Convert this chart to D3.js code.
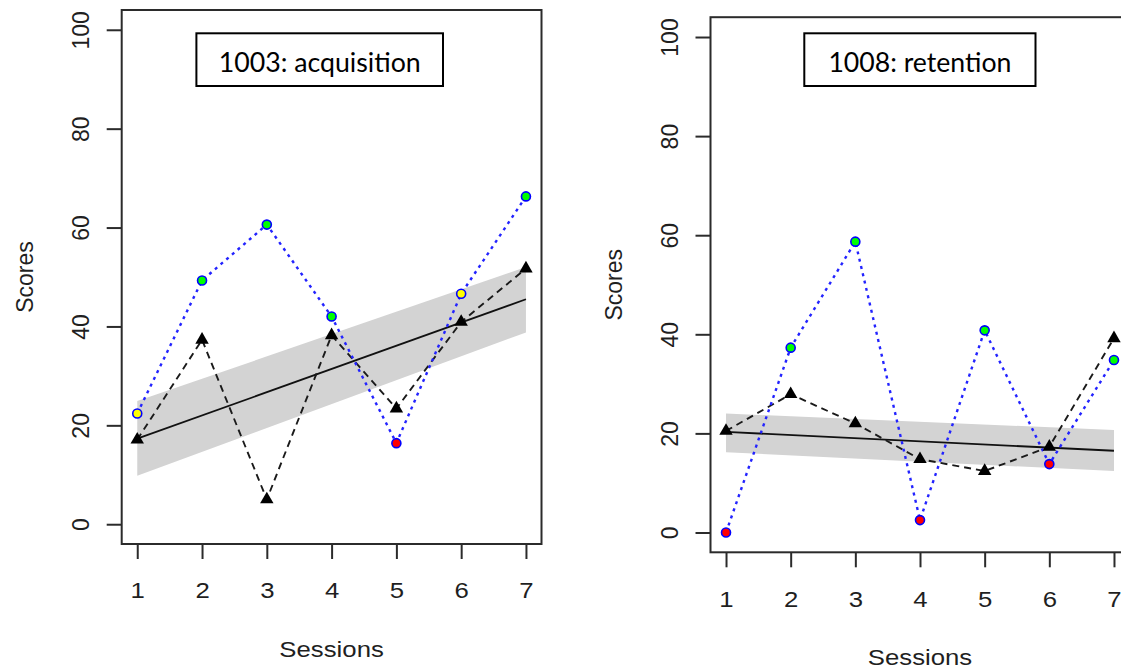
<!DOCTYPE html>
<html>
<head>
<meta charset="utf-8">
<script src="https://cdn.jsdelivr.net/npm/d3@7"></script>
<style>
  html, body { margin: 0; padding: 0; background: #fff; }
  svg { display: block; }
</style>
</head>
<body>
<svg id="chart" width="1121" height="668"></svg>
<script>
// ---- data ----
const sessions = [1, 2, 3, 4, 5, 6, 7];
const xTickLabels = ["1", "2", "3", "4", "5", "6", "7"];
const yTickValues = [0, 20, 40, 60, 80, 100];
const xLabel = "Sessions";
const yLabel = "Scores";

// participant 1003, acquisition phase
const acqTitle = "1003: acquisition";
const acqCircleScores = [22.4, 49.3, 60.6, 42.0, 16.4, 46.6, 66.3];
const acqCircleFills = ["#ffff00", "#00ff00", "#00ff00", "#00ff00", "#ff0000", "#ffff00", "#00ff00"];
const acqTriangleScores = [17.1, 37.3, 5.0, 38.2, 23.4, 40.9, 51.7];
const acqTrendEnds = [17.3, 45.5];      // fitted value at session 1 and session 7
const acqBandUpper = [24.9, 52.0];
const acqBandLower = [9.8, 38.8];

// participant 1008, retention phase
const retTitle = "1008: retention";
const retCircleScores = [0.0, 37.3, 58.7, 2.5, 40.8, 13.8, 34.8];
const retCircleFills = ["#ff0000", "#00ff00", "#00ff00", "#ff0000", "#00ff00", "#ff0000", "#00ff00"];
const retTriangleScores = [20.5, 27.9, 22.0, 14.8, 12.4, 17.3, 39.2];
const retTrendEnds = [20.3, 16.5];
const retBandUpper = [24.0, 20.7];
const retBandLower = [16.2, 12.4];

const trendSessions = [sessions[0], sessions[sessions.length - 1]];

// ---- layout ----
const svg = d3.select("#chart");
const AXIS_FONT = "'Liberation Sans', Arial, sans-serif";
const TITLE_FONT = "Lato, 'Open Sans', sans-serif";
const STRETCH = 1.12;

const panels = [
  {
    box: { x0: 121.7, x1: 541.5, y0: 10, y1: 544 },
    title: acqTitle, titleBox: { x: 196.4, y: 33.3, w: 246.6, h: 52.7 }, titleWidth: 202,
    circles: acqCircleScores, fills: acqCircleFills, triangles: acqTriangleScores,
    trend: acqTrendEnds, upper: acqBandUpper, lower: acqBandLower
  },
  {
    box: { x0: 710.5, x1: 1129.5, y0: 17.2, y1: 552.3 },
    title: retTitle, titleBox: { x: 804.3, y: 33.3, w: 231.2, h: 52.7 }, titleWidth: 183,
    circles: retCircleScores, fills: retCircleFills, triangles: retTriangleScores,
    trend: retTrendEnds, upper: retBandUpper, lower: retBandLower
  }
];

function drawPanel(p) {
  const b = p.box;
  const x = d3.scaleLinear().domain([0.76, 7.24]).range([b.x0, b.x1]);
  const y = d3.scaleLinear().domain([-4, 104]).range([b.y1, b.y0]);
  const g = svg.append("g");

  // confidence band around the trend
  const bandData = trendSessions.map((s, i) => ({ s, lo: p.lower[i], hi: p.upper[i] }));
  g.append("path")
    .datum(bandData)
    .attr("fill", "#d3d3d3")
    .attr("d", d3.area().x(d => x(d.s)).y0(d => y(d.lo)).y1(d => y(d.hi)));

  // fitted trend line
  g.append("path")
    .datum(trendSessions.map((s, i) => ({ s, v: p.trend[i] })))
    .attr("fill", "none")
    .attr("stroke", "#111")
    .attr("stroke-width", 1.8)
    .attr("d", d3.line().x(d => x(d.s)).y(d => y(d.v)));

  const triData = sessions.map((s, i) => ({ s, v: p.triangles[i] }));
  const cirData = sessions.map((s, i) => ({ s, v: p.circles[i], fill: p.fills[i] }));
  const line = d3.line().x(d => x(d.s)).y(d => y(d.v));

  // dashed black series
  g.append("path")
    .datum(triData)
    .attr("fill", "none")
    .attr("stroke", "#1a1a1a")
    .attr("stroke-width", 1.9)
    .attr("stroke-dasharray", "7,5")
    .attr("d", line);

  // dotted blue series
  g.append("path")
    .datum(cirData)
    .attr("fill", "none")
    .attr("stroke", "#2323ff")
    .attr("stroke-width", 2.4)
    .attr("stroke-dasharray", "3,4.5")
    .attr("d", line);

  g.selectAll("path.tri")
    .data(triData)
    .join("path")
    .attr("class", "tri")
    .attr("transform", d => `translate(${x(d.s)},${y(d.v)})`)
    .attr("fill", "#000")
    .attr("d", d3.symbol(d3.symbolTriangle, 78));

  g.selectAll("circle.pt")
    .data(cirData)
    .join("circle")
    .attr("class", "pt")
    .attr("cx", d => x(d.s))
    .attr("cy", d => y(d.v))
    .attr("r", 4.5)
    .attr("fill", d => d.fill)
    .attr("stroke", "#0000ff")
    .attr("stroke-width", 1.6);

  // plot frame
  g.append("rect")
    .attr("x", b.x0).attr("y", b.y0)
    .attr("width", b.x1 - b.x0).attr("height", b.y1 - b.y0)
    .attr("fill", "none")
    .attr("stroke", "#2b2b2b")
    .attr("stroke-width", 2);

  // x axis
  const xAxis = g.append("g")
    .attr("transform", `translate(0,${b.y1})`)
    .call(d3.axisBottom(x).tickValues(sessions).tickFormat((d, i) => xTickLabels[i])
      .tickSize(15).tickSizeOuter(0));
  xAxis.select(".domain").remove();
  xAxis.selectAll(".tick line").attr("stroke", "#2b2b2b").attr("stroke-width", 2);
  xAxis.selectAll(".tick text")
    .attr("y", 54.3).attr("dy", null)
    .attr("transform", `scale(${STRETCH},1)`)
    .attr("fill", "#1f1f1f")
    .style("font-family", AXIS_FONT).style("font-size", "23px");

  // y axis with labels parallel to the axis
  const yAxis = g.append("g")
    .attr("transform", `translate(${b.x0},0)`)
    .call(d3.axisLeft(y).tickValues(yTickValues).tickSize(15).tickSizeOuter(0));
  yAxis.select(".domain").remove();
  yAxis.selectAll(".tick line").attr("stroke", "#2b2b2b").attr("stroke-width", 2);
  yAxis.selectAll(".tick text")
    .attr("transform", "rotate(-90)")
    .attr("x", 0).attr("y", -32.3).attr("dy", null)
    .attr("text-anchor", "middle")
    .attr("fill", "#1f1f1f")
    .style("font-family", AXIS_FONT).style("font-size", "23px");

  // axis titles
  const cx = (b.x0 + b.x1) / 2;
  g.append("text")
    .attr("transform", `translate(${cx},${b.y1 + 112.7}) scale(${STRETCH},1)`)
    .attr("text-anchor", "middle")
    .attr("fill", "#1f1f1f")
    .style("font-family", AXIS_FONT).style("font-size", "23px")
    .text(xLabel);
  g.append("text")
    .attr("transform", `translate(${b.x0 - 88.7},${(b.y0 + b.y1) / 2}) rotate(-90)`)
    .attr("text-anchor", "middle")
    .attr("fill", "#1f1f1f")
    .style("font-family", AXIS_FONT).style("font-size", "23px")
    .text(yLabel);

  // boxed panel title
  const t = p.titleBox;
  g.append("rect")
    .attr("x", t.x).attr("y", t.y).attr("width", t.w).attr("height", t.h)
    .attr("fill", "#fff").attr("stroke", "#000").attr("stroke-width", 2);
  g.append("text")
    .attr("x", t.x + t.w / 2).attr("y", t.y + 38.4)
    .attr("text-anchor", "middle")
    .attr("fill", "#000")
    .attr("textLength", p.titleWidth)
    .attr("lengthAdjust", "spacingAndGlyphs")
    .style("font-family", TITLE_FONT).style("font-size", "26px")
    .text(p.title);
}

panels.forEach(drawPanel);
</script>
</body>
</html>
